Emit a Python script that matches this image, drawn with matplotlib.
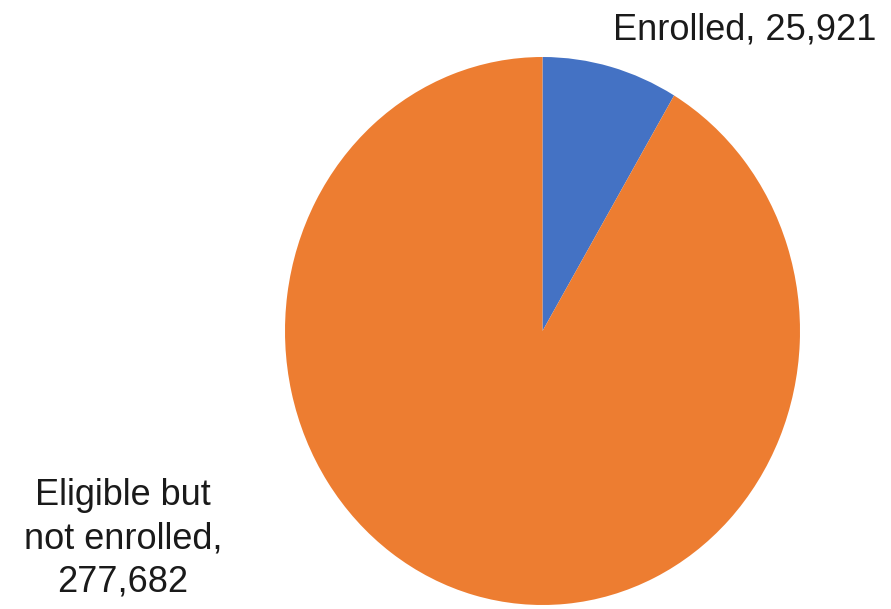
import matplotlib.pyplot as plt

labels = ['Enrolled', 'Eligible but\nnot enrolled']
values = [25921, 277682]
colors = ['#4472C4', '#ED7D31']

W, H = 891, 609
fig = plt.figure(figsize=(W / 100, H / 100), dpi=100)
plt.rcParams['font.family'] = ['Liberation Sans', 'DejaVu Sans']

# pie is slightly taller than wide in the reference
left, right, top, bottom = 285, 800, 57, 605
ax = fig.add_axes([left / W, 1 - bottom / H, (right - left) / W, (bottom - top) / H])
ax.pie(values, colors=colors, startangle=90, counterclock=False,
       wedgeprops=dict(linewidth=0))
ax.set_aspect('auto')
ax.set_xlim(-1, 1)
ax.set_ylim(-1, 1)
ax.axis('off')

txt = [f'{l}, {v:,}' for l, v in zip(labels, values)]
fig.text(613 / W, 1 - 39 / H, txt[0], ha='left', va='baseline',
         fontsize=26, color='#1a1a1a')
fig.text(123 / W, 1 - 539 / H, txt[1].replace(', ', ',\n'), ha='center', va='center',
         fontsize=26, color='#1a1a1a', linespacing=1.3, multialignment='center')

fig.savefig('out.png', dpi=100)
